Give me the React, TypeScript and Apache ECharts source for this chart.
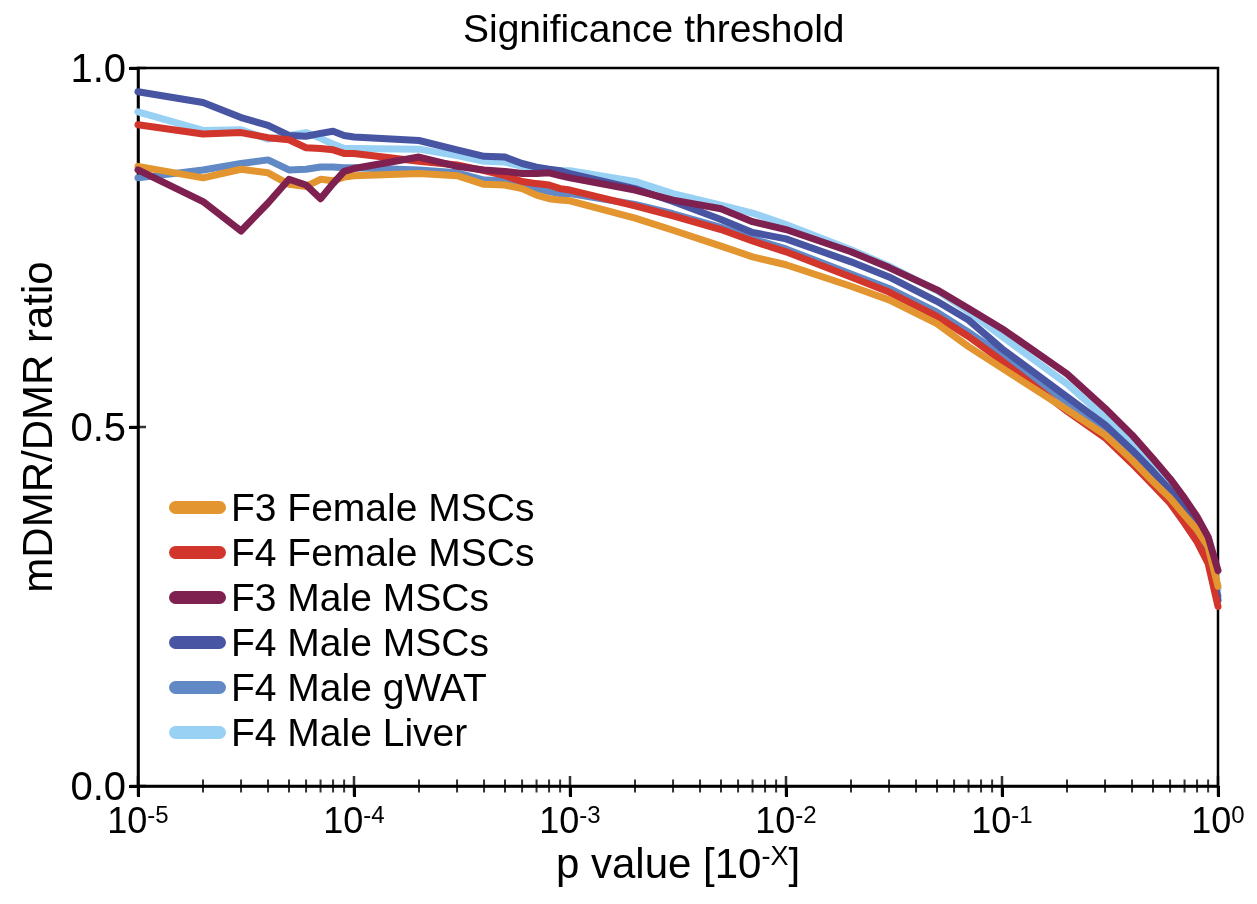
import React, { useEffect, useRef } from "react";
import * as echarts from "echarts";

// p values (x) at which each curve was sampled
const pValues = [
  1e-5, 2e-5, 3e-5, 4e-5, 5e-5, 6e-5, 7e-5, 8e-5, 9e-5,
  1e-4, 2e-4, 3e-4, 4e-4, 5e-4, 6e-4, 7e-4, 8e-4, 9e-4,
  1e-3, 2e-3, 3e-3, 5e-3, 7e-3,
  1e-2, 2e-2, 3e-2, 5e-2, 7e-2,
  0.1, 0.2, 0.3, 0.4, 0.5, 0.6, 0.7, 0.8, 0.9,
  1,
];

const f3FemaleMSCs = [
  0.863, 0.847, 0.859, 0.854, 0.838, 0.835, 0.845, 0.843, 0.848,
  0.850, 0.853, 0.850, 0.838, 0.837, 0.832, 0.823, 0.818, 0.816,
  0.815, 0.791, 0.774, 0.752, 0.737,
  0.726, 0.696, 0.677, 0.644, 0.612,
  0.582, 0.524, 0.489, 0.454, 0.424, 0.401, 0.377, 0.357, 0.333,
  0.278,
];
const f4FemaleMSCs = [
  0.921, 0.908, 0.910, 0.903, 0.900, 0.889, 0.888, 0.886, 0.881,
  0.881, 0.870, 0.865, 0.857, 0.850, 0.842, 0.839, 0.837, 0.832,
  0.830, 0.808, 0.794, 0.775, 0.759,
  0.744, 0.709, 0.688, 0.654, 0.626,
  0.592, 0.522, 0.485, 0.449, 0.419, 0.394, 0.366, 0.340, 0.310,
  0.250,
];
const f3MaleMSCs = [
  0.858, 0.814, 0.773, 0.812, 0.845, 0.837, 0.818, 0.839, 0.856,
  0.860, 0.876, 0.863, 0.858, 0.856, 0.853, 0.853, 0.854, 0.850,
  0.847, 0.830, 0.816, 0.804, 0.786,
  0.775, 0.744, 0.722, 0.691, 0.665,
  0.637, 0.574, 0.526, 0.489, 0.456, 0.428, 0.401, 0.375, 0.347,
  0.300,
];
const f4MaleMSCs = [
  0.967, 0.952, 0.931, 0.920, 0.906, 0.905, 0.909, 0.912, 0.906,
  0.904, 0.899, 0.886, 0.877, 0.876, 0.867, 0.862, 0.859, 0.857,
  0.853, 0.832, 0.814, 0.789, 0.771,
  0.762, 0.730, 0.709, 0.675, 0.649,
  0.609, 0.542, 0.503, 0.468, 0.438, 0.412, 0.387, 0.361, 0.329,
  0.259,
];
const f4MaleGWAT = [
  0.847, 0.858, 0.867, 0.872, 0.858, 0.859, 0.862, 0.862, 0.861,
  0.861, 0.858, 0.854, 0.844, 0.843, 0.837, 0.832, 0.828, 0.825,
  0.825, 0.810, 0.797, 0.778, 0.762,
  0.748, 0.713, 0.693, 0.660, 0.632,
  0.600, 0.535, 0.497, 0.462, 0.432, 0.406, 0.381, 0.355, 0.322,
  0.265,
];
const f4MaleLiver = [
  0.939, 0.913, 0.914, 0.901, 0.906, 0.910, 0.902, 0.894, 0.888,
  0.888, 0.887, 0.878, 0.870, 0.869, 0.863, 0.859, 0.858, 0.857,
  0.857, 0.842, 0.825, 0.809, 0.798,
  0.782, 0.747, 0.724, 0.690, 0.661,
  0.626, 0.560, 0.513, 0.476, 0.443, 0.414, 0.386, 0.360, 0.332,
  0.275,
];

const majorTicks = [1e-5, 1e-4, 1e-3, 1e-2, 1e-1, 1];
const minorTicks = [
  2e-5, 3e-5, 4e-5, 5e-5, 6e-5, 7e-5, 8e-5, 9e-5,
  2e-4, 3e-4, 4e-4, 5e-4, 6e-4, 7e-4, 8e-4, 9e-4,
  2e-3, 3e-3, 4e-3, 5e-3, 6e-3, 7e-3, 8e-3, 9e-3,
  2e-2, 3e-2, 4e-2, 5e-2, 6e-2, 7e-2, 8e-2, 9e-2,
  0.2, 0.3, 0.4, 0.5, 0.6, 0.7, 0.8, 0.9,
];
const yTicks = [0, 0.5, 1];

const FONT = "'Liberation Sans', Arial, Helvetica, sans-serif";

// legend order; z sets the drawing order (higher on top)
const seriesDefs = [
  { name: "F3 Female MSCs", values: f3FemaleMSCs, color: "#E3952F", z: 6 },
  { name: "F4 Female MSCs", values: f4FemaleMSCs, color: "#D1352B", z: 5 },
  { name: "F3 Male MSCs", values: f3MaleMSCs, color: "#7E2050", z: 7 },
  { name: "F4 Male MSCs", values: f4MaleMSCs, color: "#4755A3", z: 4 },
  { name: "F4 Male gWAT", values: f4MaleGWAT, color: "#6089C6", z: 3 },
  { name: "F4 Male Liver", values: f4MaleLiver, color: "#98D1F3", z: 2 },
];

function tickSeries(data: number[][], size: number[]) {
  return {
    type: "scatter",
    clip: false,
    z: 10,
    symbol: "rect",
    symbolSize: size,
    itemStyle: { color: "#000" },
    data,
  };
}

export default function App() {
  const ref = useRef<HTMLDivElement>(null);
  useEffect(() => {
    if (!ref.current) return;
    const chart = echarts.init(ref.current, undefined, { renderer: "svg" });
    const supRich = {
      b: { fontSize: 36, fontFamily: FONT, color: "#000" },
      s: { fontSize: 24, fontFamily: FONT, color: "#000", verticalAlign: "top" },
    };
    const option: any = {
      animation: false,
      title: {
        text: "Significance threshold",
        left: 458,
        top: 4,
        textStyle: { fontSize: 39, fontFamily: FONT, color: "#000", fontWeight: "normal" },
      },
      grid: {
        left: 138,
        right: 39,
        top: 68,
        bottom: 118,
        show: true,
        borderColor: "#000",
        borderWidth: 2.5,
      },
      legend: {
        orient: "vertical",
        left: 164,
        top: 483,
        itemWidth: 57,
        itemHeight: 13,
        itemGap: 6,
        itemTextGap: 18,
        icon: "path://M6.5,0 H50.5 A6.5,6.5 0 0 1 50.5,13 H6.5 A6.5,6.5 0 0 1 6.5,0 Z",
        textStyle: { fontSize: 39, fontFamily: FONT, color: "#000", lineHeight: 39 },
      },
      xAxis: {
        type: "log",
        logBase: 10,
        min: 1e-5,
        max: 1,
        name: "{b|p value [10}{s|-X}{b|]}",
        nameLocation: "middle",
        nameGap: 52,
        nameTextStyle: {
          rich: {
            b: { fontSize: 42, fontFamily: FONT, color: "#000" },
            s: { fontSize: 27, fontFamily: FONT, color: "#000", verticalAlign: "top" },
          },
        },
        axisLine: { show: true, onZero: false, lineStyle: { color: "#000", width: 2.5 } },
        axisTick: { show: true, length: 11, lineStyle: { color: "#000", width: 3 } },
        axisLabel: {
          margin: 16,
          formatter: (v: number) => {
            const e = Math.round(Math.log10(v));
            return `{b|10}{s|${e}}`;
          },
          rich: supRich,
        },
        splitLine: { show: true, lineStyle: { color: "rgba(0,0,0,0)" } },
      },
      yAxis: {
        type: "value",
        min: 0,
        max: 1,
        interval: 0.5,
        name: "mDMR/DMR ratio",
        nameLocation: "middle",
        nameGap: 80,
        nameTextStyle: { fontSize: 42, fontFamily: FONT, color: "#000" },
        axisLine: { show: true, onZero: false, lineStyle: { color: "#000", width: 2.5 } },
        axisTick: { show: true, length: 9, lineStyle: { color: "#000", width: 3 } },
        axisLabel: {
          margin: 12,
          fontSize: 40,
          fontFamily: FONT,
          color: "#000",
          formatter: (v: number) => v.toFixed(1),
        },
        splitLine: { show: true, lineStyle: { color: "rgba(0,0,0,0)" } },
      },
      series: [
        ...seriesDefs.map((s) => ({
          name: s.name,
          type: "line",
          z: s.z,
          symbol: "none",
          showSymbol: false,
          smooth: false,
          color: s.color,
          itemStyle: { color: s.color },
          lineStyle: { width: 7, color: s.color, cap: "round", join: "round" },
          data: pValues.map((p, i) => [p, s.values[i]]),
        })),
        tickSeries(minorTicks.map((p) => [p, 0]), [2, 13]),
        tickSeries(majorTicks.map((p) => [p, 0]), [2.5, 20]),
        tickSeries(yTicks.map((v) => [1e-5, v]), [16, 2.5]),
      ],
    };
    chart.setOption(option);
    return () => chart.dispose();
  }, []);
  return (
    <div
      ref={ref}
      style={{ position: "fixed", left: 0, top: 0, width: 1257, height: 904 }}
    />
  );
}
